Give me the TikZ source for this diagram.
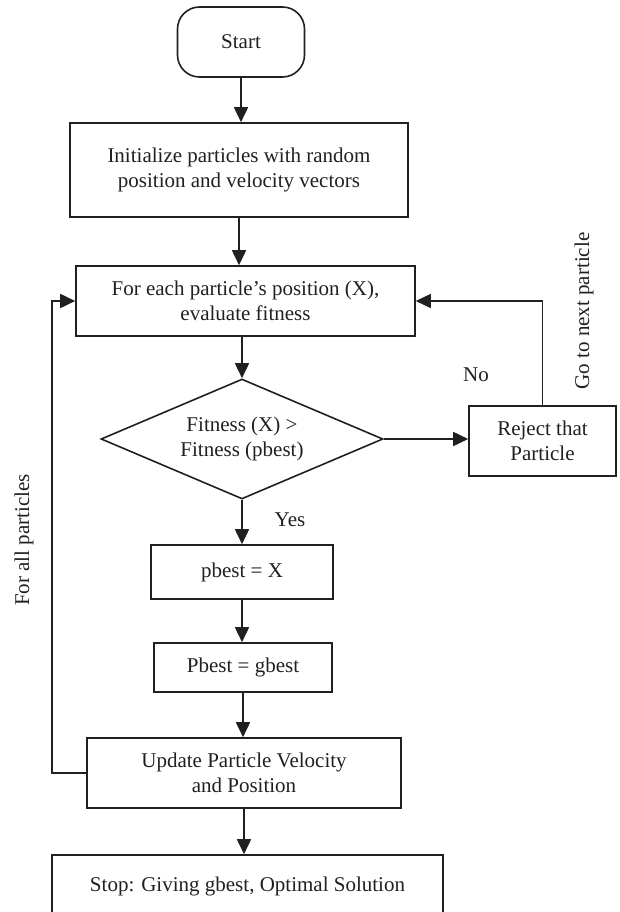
\documentclass[tikz,border=0pt]{standalone}
\usepackage{fontspec}
\setmainfont{Liberation Serif}
\usetikzlibrary{shapes.geometric,arrows.meta}
\definecolor{ink}{HTML}{231F20}
\begin{document}
\begin{tikzpicture}[x=1pt,y=-1pt,
  every node/.style={font=\fontsize{21}{25.5}\selectfont, text=ink},
  box/.style={draw=ink, line width=1.6pt, inner sep=0pt, align=center},
  arr/.style={draw=ink, line width=1.7pt, -{Triangle[length=15pt,width=14pt]}},
  link/.style={draw=ink, line width=1.7pt}]
\useasboundingbox (0,0) rectangle (620,912);
\clip (0,0) rectangle (620,912);
\node[box, rounded corners=22pt, minimum width=127pt, minimum height=70pt] (start) at (241,42) {Start};
\node[box, minimum width=338pt, minimum height=94pt] (init) at (239,170) {Initialize particles with random\\position and velocity vectors};
\node[box, minimum width=339pt, minimum height=70pt] (eval) at (245.5,301) {For each particle’s position (X),\\evaluate fitness};
\node[box, diamond, aspect=2.35, minimum width=282pt, minimum height=120pt] (dec) at (242,439) {Fitness (X) >\\Fitness (pbest)};
\node[box, minimum width=147pt, minimum height=70pt] (reject) at (542.5,441) {Reject that\\Particle};
\node[box, minimum width=182pt, minimum height=54pt] (pb) at (242,572) {pbest = X};
\node[box, minimum width=178pt, minimum height=49pt] (gb) at (243,667.5) {Pbest = gbest};
\node[box, minimum width=314pt, minimum height=70pt] (upd) at (244,773) {Update Particle Velocity\\and Position};
\node[box, minimum width=391pt, minimum height=62pt] (stop) at (247.5,886) {Stop: Giving gbest, Optimal Solution};
\node (no) at (476,375) {No};
\node (yes) at (290,520) {Yes};
\node[rotate=90] (golab) at (584,311) {Go to next particle};
\node[rotate=90] (alllab) at (24,540) {For all particles};
\coordinate (lx) at (52,773);
\draw[arr] (start.south) -- (start.south |- init.north);
\draw[arr] (init.south) -- (init.south |- eval.north);
\draw[arr] (eval.south -| dec.north) -- (dec.north);
\draw[arr] (dec.east) -- (dec.east -| reject.west);
\draw[arr] (reject.north) |- (eval.east);
\draw[arr] (dec.south) -- (dec.south |- pb.north);
\draw[arr] (pb.south) -- (pb.south |- gb.north);
\draw[arr] (gb.south) -- (gb.south |- upd.north);
\draw[arr] (upd.west) -- (lx) |- (eval.west);
\draw[arr] (upd.south) -- (upd.south |- stop.north);
\end{tikzpicture}
\end{document}
